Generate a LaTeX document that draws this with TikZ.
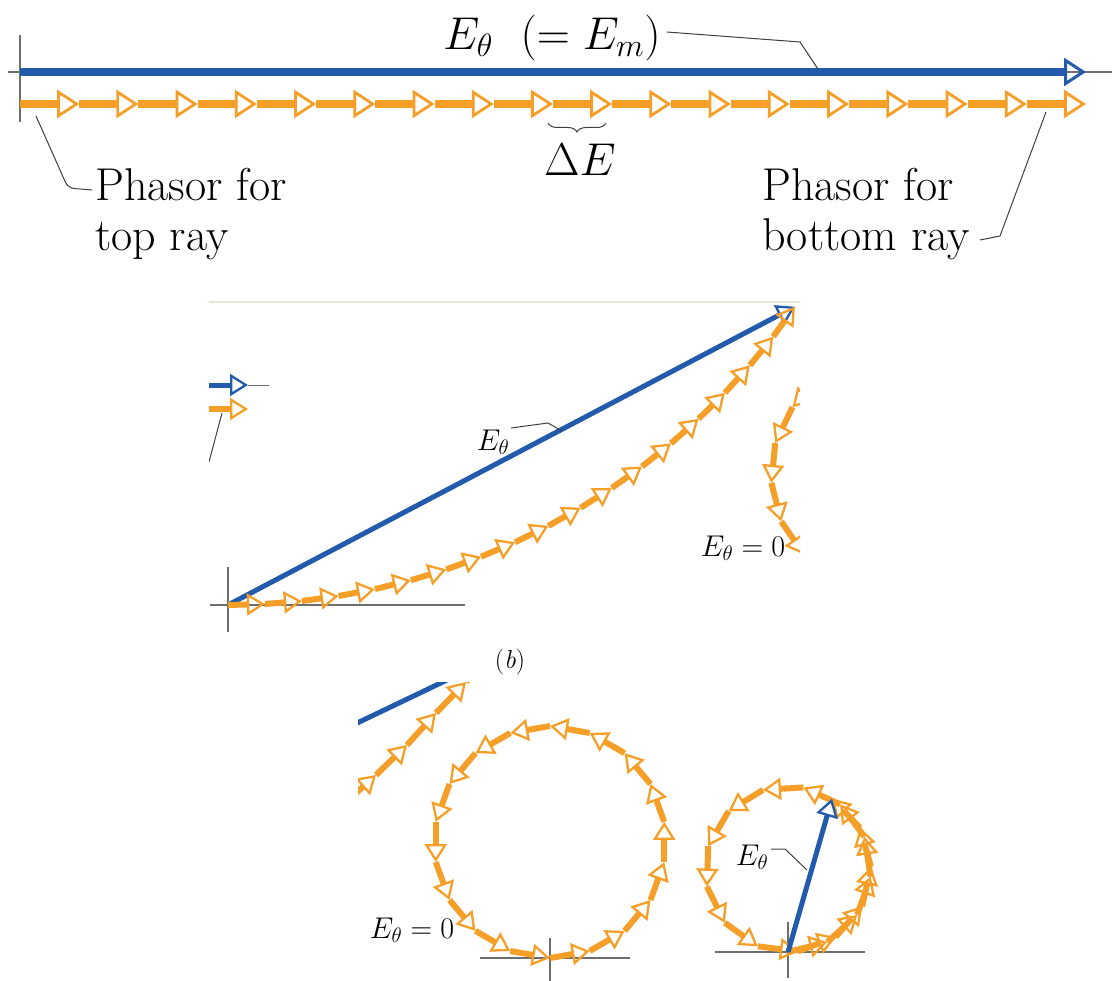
\RequirePackage{fix-cm}
\documentclass[tikz,border=0pt]{standalone}
\usepackage{amsmath,amssymb}
\usetikzlibrary{arrows.meta,calc,decorations.pathreplacing}

\definecolor{phasororange}{RGB}{245,158,40}
\definecolor{resultblue}{RGB}{34,90,172}
\definecolor{axisgray}{RGB}{110,110,110}
\definecolor{paneledge}{RGB}{232,228,215}

\begin{document}
\begin{tikzpicture}[
  x=1pt, y=-1pt,
  phasor/.style={draw=phasororange, line width=7.5pt, -{Triangle[open, length=22pt, width=28pt, line width=2.8pt]}},
  smallphasor/.style={draw=phasororange, line width=6pt, -{Triangle[open, length=18pt, width=22pt, line width=2.3pt]}},
  resultant/.style={draw=resultblue, line width=7.5pt, -{Triangle[open, length=22pt, width=28pt, line width=3pt]}},
  smallresultant/.style={draw=resultblue, line width=5pt, -{Triangle[open, length=18pt, width=22pt, line width=2.3pt]}},
  axis/.style={draw=axisgray, line width=1.3pt},
  leader/.style={draw=black!75, line width=1pt},
  biglabel/.style={font=\fontsize{46}{50}\selectfont, inner sep=0pt},
  midlabel/.style={font=\fontsize{30}{34}\selectfont, inner sep=0pt},
]
\useasboundingbox (0,0) rectangle (1116,981);

% (a) phasors in a straight line
\draw[axis] (20,35) -- (20,122);
\draw[axis] (8,72) -- (1112,72);
\coordinate (topO) at (20,72);
\coordinate (topEnd) at (1086,72);
\draw[resultant] (topO) -- (topEnd);
\foreach \k in {0,...,18}
  \coordinate (a\k) at ({20+\k*59.22},104);
\foreach \k [remember=\k as \j (initially 0)] in {1,...,18}
  \draw[phasor] (a\j) -- (a\k);

\node[biglabel] (Eth) at (552,38) {$E_\theta\ \ (= E_m)$};
\coordinate (EthHit) at (818,69);
\draw[leader] (Eth.east) ++(6,-6) -- (800,42) -- (EthHit);

\draw[leader, decorate, decoration={brace, amplitude=9pt}] (606,123) -- (548,123);
\node[biglabel] (dE) at (580,160) {$\Delta E$};

\node[biglabel, anchor=north west, align=left] (topRay) at (95,168) {Phasor for\\top ray};
\coordinate (topHit) at (36,116);
\draw[leader, rounded corners=6pt] (topHit) -- (68,188) -- (92,190);

\node[biglabel, anchor=north west, align=left] (botRay) at (762,168) {Phasor for\\bottom ray};
\coordinate (botHit) at (1046,112);
\draw[leader] (980,240) -- (1000,236) -- (botHit);

% (b) phasors bent into an arc
\begin{scope}
\clip (209,300) rectangle (800,645);
\draw[draw=paneledge, line width=1.5pt] (209,302) -- (800,302);
\coordinate (stubB) at (248,385);
\coordinate (stubO) at (248,409);
\draw[smallresultant] (200,385) -- (stubB);
\draw[axis, line width=1pt] (stubB) -- (269,385);
\draw[smallphasor] (200,409) -- (stubO);
\draw[leader] (222,413) -- (209,462);

\draw[axis] (210,605) -- (465,605);
\draw[axis] (228,567) -- (228,632);
\foreach \k in {0,...,18}
  \coordinate (b\k) at ({228+688*cos(90-\k*3.083)},{-83+688*sin(90-\k*3.083)});
\draw[smallresultant] (b0) -- (b18);
\foreach \k [remember=\k as \j (initially 0)] in {1,...,18}
  \draw[smallphasor] (b\j) -- (b\k);

\foreach \k in {0,...,7}
  \coordinate (c\k) at ({886+115*cos(255.6-20*\k)},{474+115*sin(255.6-20*\k)});
\foreach \k [remember=\k as \j (initially 0)] in {1,...,7}
  \draw[smallphasor] (c\j) -- (c\k);
\end{scope}

\node[midlabel] (EthB) at (493,442) {$E_\theta$};
\coordinate (EthBHit) at (562,431);
\draw[leader] (511,428) -- (548,423) -- (EthBHit);
\node[midlabel] (EthZeroB) at (743,548) {$E_\theta = 0$};
\node[font=\fontsize{26}{30}\selectfont, inner sep=0pt] (capB) at (510,662) {(\textit{b})};

% (c) phasors curled into circles
\begin{scope}
\clip (358,682) rectangle (890,981);
\coordinate (dBlueA) at (330,736);
\coordinate (dBlueB) at (470,669);
\draw[draw=resultblue, line width=5pt] (dBlueA) -- (dBlueB);
\coordinate (d0) at (316,829);
\coordinate (d1) at (346,802);
\coordinate (d2) at (376,775);
\coordinate (d3) at (407,745);
\coordinate (d4) at (436,713);
\coordinate (d5) at (466,682);
\coordinate (d6) at (494,651);
\foreach \k [remember=\k as \j (initially 0)] in {1,...,6}
  \draw[smallphasor] (d\j) -- (d\k);

\draw[axis] (480,958) -- (630,958);
\draw[axis] (550,938) -- (550,981);
\foreach \k in {0,...,18}
  \coordinate (e\k) at ({550+116*cos(90-20*\k)},{842+116*sin(90-20*\k)});
\foreach \k [remember=\k as \j (initially 0)] in {1,...,18}
  \draw[smallphasor] (e\j) -- (e\k);

\draw[axis] (715,952) -- (865,952);
\draw[axis] (788,922) -- (788,978);
\foreach \k in {0,...,18}
  \coordinate (f\k) at ({788+83*cos(90-28.22*\k)},{869+83*sin(90-28.22*\k)});
\foreach \k [remember=\k as \j (initially 0)] in {1,...,18}
  \draw[smallphasor] (f\j) -- (f\k);
\draw[smallresultant] (f0) -- (f18);
\end{scope}

\node[midlabel] (EthZeroC) at (412,930) {$E_\theta = 0$};
\node[midlabel] (EthC) at (752,857) {$E_\theta$};
\coordinate (EthCHit) at (807,870);
\draw[leader] (771,849) -- (785,849) -- (EthCHit);
\end{tikzpicture}
\end{document}
